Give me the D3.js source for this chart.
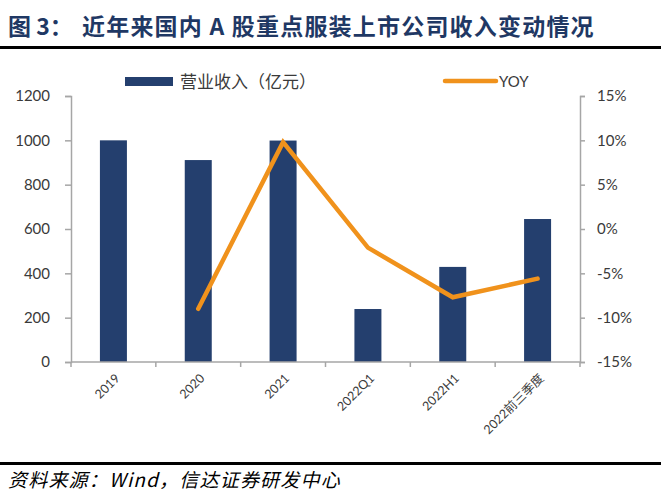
<!DOCTYPE html>
<html>
<head>
<meta charset="utf-8">
<script src="https://cdn.jsdelivr.net/npm/d3@7"></script>
<style>
body { margin: 0; background: #fff; }
text { font-family: Lato, "Noto Sans CJK SC", sans-serif; }
</style>
</head>
<body>
<div id="chart"></div>
<script>
var categories = ["2019", "2020", "2021", "2022Q1", "2022H1", "2022前三季度"];
var revenue = [1000, 911, 999, 239, 429, 645];
var yoy = [null, -9.0, 9.8, -2.1, -7.7, -5.6];
var leftTicks = [0, 200, 400, 600, 800, 1000, 1200];
var rightTicks = [-15, -10, -5, 0, 5, 10, 15];

var width = 661, height = 500;
var margin = {top: 96, right: 81, bottom: 138, left: 71};
var plotW = width - margin.left - margin.right,
  plotH = height - margin.top - margin.bottom;

var barColor = "#243f6e", lineColor = "#f0921c", axisColor = "#a6a6a6", textColor = "#3a3a3a";

var svg = d3.select("#chart").append("svg")
  .attr("width", width)
  .attr("height", height);

// title and rules
var title = svg.append("text")
  .attr("x", 8).attr("y", 35)
  .style("font-family", "'Noto Sans CJK SC', sans-serif")
  .style("font-weight", "bold")
  .style("font-size", "23px")
  .style("fill", "#1f3864");
title.append("tspan").text("图 3：");
title.append("tspan").attr("x", 82).style("letter-spacing", "1.2px")
  .text("近年来国内 A 股重点服装上市公司收入变动情况");

svg.append("rect").attr("x", 0).attr("y", 46).attr("width", width).attr("height", 3).attr("fill", "#000");
svg.append("rect").attr("x", 0).attr("y", 462).attr("width", width).attr("height", 3).attr("fill", "#000");

svg.append("text")
  .attr("x", 8).attr("y", 487)
  .style("font-family", "'Noto Sans CJK SC', sans-serif")
  .style("font-style", "italic")
  .style("font-size", "19px")
  .style("letter-spacing", "1.2px")
  .style("fill", "#000")
  .text("资料来源：Wind，信达证券研发中心");

var g = svg.append("g")
  .attr("transform", "translate(" + margin.left + "," + margin.top + ")");

var x = d3.scaleBand().domain(categories).range([0, plotW]);
var y = d3.scaleLinear().domain([0, 1200]).range([plotH, 0]);
var y2 = d3.scaleLinear().domain([-15, 15]).range([plotH, 0]);

var barW = 27;

g.selectAll(".bar")
  .data(revenue)
  .enter().append("rect")
  .attr("class", "bar")
  .attr("x", function(d, i) { return x(categories[i]) + x.bandwidth() / 2 - barW / 2; })
  .attr("width", barW)
  .attr("y", function(d) { return y(d); })
  .attr("height", function(d) { return plotH - y(d); })
  .attr("fill", barColor);

// left axis
var yAxis = d3.axisLeft(y).tickValues(leftTicks).tickFormat(d3.format("d")).tickSize(6).tickPadding(15);
var ya = g.append("g").call(yAxis);
// right axis
var yAxis2 = d3.axisRight(y2).tickValues(rightTicks)
  .tickFormat(function(d) { return d + "%"; }).tickSize(5).tickPadding(12);
var ya2 = g.append("g").attr("transform", "translate(" + plotW + ",0)").call(yAxis2);

[ya, ya2].forEach(function(a) {
  a.select(".domain").attr("stroke", axisColor).attr("stroke-width", 1.5);
  a.selectAll(".tick line").attr("stroke", axisColor).attr("stroke-width", 1.5);
  a.selectAll(".tick text").style("font-size", "15px").style("fill", textColor)
    .style("font-family", "Lato, sans-serif");
});

// x axis
var xa = g.append("g").attr("transform", "translate(0," + plotH + ")");
xa.append("line").attr("x1", 0).attr("x2", plotW).attr("stroke", axisColor).attr("stroke-width", 1.5);
xa.selectAll(".xtick")
  .data(d3.range(categories.length + 1))
  .enter().append("line")
  .attr("x1", function(i) { return i * x.step(); })
  .attr("x2", function(i) { return i * x.step(); })
  .attr("y1", 0).attr("y2", 5)
  .attr("stroke", axisColor).attr("stroke-width", 1.5);
xa.selectAll(".xlabel")
  .data(categories)
  .enter().append("text")
  .attr("transform", function(d) {
    return "translate(" + (x(d) + x.bandwidth() / 2 + 4) + ",14) rotate(-45)";
  })
  .attr("text-anchor", "end")
  .attr("dy", "0.35em")
  .style("font-size", "12.5px")
  .style("font-family", "Lato, 'Noto Sans CJK SC', sans-serif")
  .style("fill", textColor)
  .text(function(d) { return d; });

// YOY line
var line = d3.line()
  .defined(function(d) { return d != null; })
  .x(function(d, i) { return x(categories[i]) + x.bandwidth() / 2; })
  .y(function(d) { return y2(d); });

g.append("path")
  .datum(yoy)
  .attr("d", line)
  .attr("fill", "none")
  .attr("stroke", lineColor)
  .attr("stroke-width", 4.5)
  .attr("stroke-linecap", "round")
  .attr("stroke-linejoin", "miter");

// legend
var lg = svg.append("g");
lg.append("rect").attr("x", 125).attr("y", 77).attr("width", 48).attr("height", 9).attr("fill", barColor);
lg.append("text").attr("x", 180).attr("y", 82).attr("dy", "0.35em")
  .style("font-family", "'Noto Sans CJK SC', sans-serif")
  .style("font-size", "17px").style("fill", textColor)
  .text("营业收入（亿元）");
lg.append("line").attr("x1", 445).attr("x2", 496).attr("y1", 81).attr("y2", 81)
  .attr("stroke", lineColor).attr("stroke-width", 4.5).attr("stroke-linecap", "round");
lg.append("text").attr("x", 499).attr("y", 82).attr("dy", "0.35em")
  .style("font-size", "15px").style("fill", textColor)
  .text("YOY");
</script>
</body>
</html>
